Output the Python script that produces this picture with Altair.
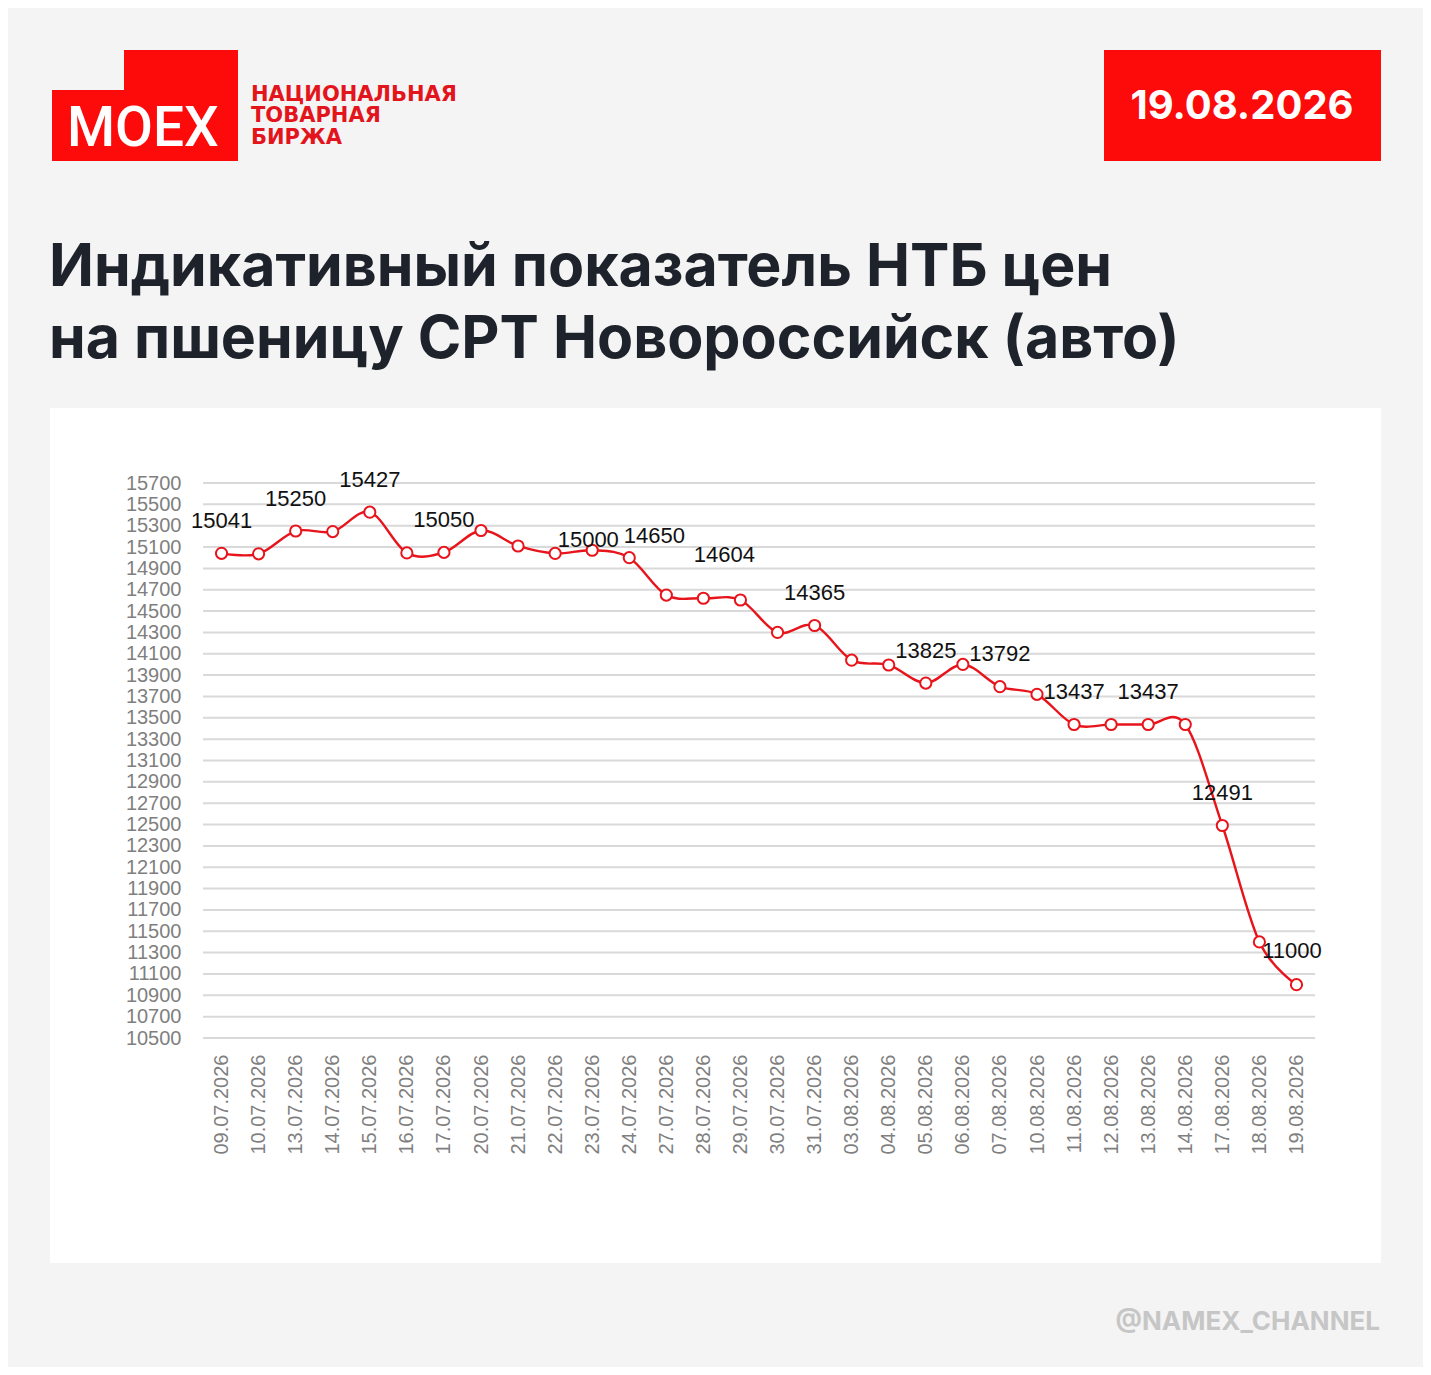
import sys
import altair as alt
import pandas as pd

# ---------------- data ----------------
dates = [
    "09.07.2026", "10.07.2026", "13.07.2026", "14.07.2026", "15.07.2026",
    "16.07.2026", "17.07.2026", "20.07.2026", "21.07.2026", "22.07.2026",
    "23.07.2026", "24.07.2026", "27.07.2026", "28.07.2026", "29.07.2026",
    "30.07.2026", "31.07.2026", "03.08.2026", "04.08.2026", "05.08.2026",
    "06.08.2026", "07.08.2026", "10.08.2026", "11.08.2026", "12.08.2026",
    "13.08.2026", "14.08.2026", "17.08.2026", "18.08.2026", "19.08.2026",
]
prices = [
    15041, 15036, 15250, 15245, 15427,
    15045, 15050, 15255, 15110, 15040,
    15070, 15000, 14650, 14620, 14604,
    14300, 14365, 14040, 13995, 13825,
    14000, 13792, 13720, 13437, 13437,
    13437, 13437, 12491, 11400, 11000,
]
labelled_dates = [
    "09.07.2026", "13.07.2026", "15.07.2026", "17.07.2026", "24.07.2026",
    "27.07.2026", "29.07.2026", "31.07.2026", "05.08.2026", "07.08.2026",
    "11.08.2026", "13.08.2026", "17.08.2026", "19.08.2026",
]
y_ticks = [
    10500, 10700, 10900, 11100, 11300, 11500, 11700, 11900, 12100,
    12300, 12500, 12700, 12900, 13100, 13300, 13500, 13700, 13900,
    14100, 14300, 14500, 14700, 14900, 15100, 15300, 15500, 15700,
]
title_lines = [
    "Индикативный показатель НТБ цен",
    "на пшеницу CPT Новороссийск (авто)",
]
logo_lines = ["НАЦИОНАЛЬНАЯ", "ТОВАРНАЯ", "БИРЖА"]
report_date = "19.08.2026"
watermark = "@NAMEX_CHANNEL"

# ---------------- styling ----------------
RED = "#e8141c"
BRAND_RED = "#fd0a0a"
GRID = "#d9d9d9"
AXIS_GRAY = "#7f7f7f"
DARK = "#1e222b"

W, H = 1112, 555          # plot area
OX, OY = 203, 483         # page position of plot origin
PAGE_W, PAGE_H = 1415, 1359

# label shifts (dx, dy) for manually placed labels
label_shift = {
    "24.07.2026": (-41, -10.5),
    "27.07.2026": (-12, -52.5),
    "29.07.2026": (-16, -37.5),
    "19.08.2026": (-4.5, -26.5),
}


def build():
    df = pd.DataFrame({"date": dates, "price": prices})
    lab = df[df["date"].isin(labelled_dates)].copy()
    lab["label"] = lab["price"].astype(int).astype(str)
    grid_df = pd.DataFrame({"price": y_ticks})
    one = pd.DataFrame({"k": [0]})

    def box(x0, y0, x1, y1, color):
        return alt.Chart(one).mark_rect(color=color).encode(
            x=alt.value(x0 - OX), x2=alt.value(x1 - OX),
            y=alt.value(y0 - OY), y2=alt.value(y1 - OY),
        )

    def txt(text, x, y, size, color, font, weight="normal", align="left"):
        return alt.Chart(one).mark_text(
            align=align, baseline="alphabetic", fontSize=size,
            font=font, fontWeight=weight, color=color,
        ).encode(x=alt.value(x - OX), y=alt.value(y - OY), text=alt.value(text))

    yscale = alt.Scale(domain=[10500, 15700], nice=False, zero=False)
    yenc = alt.Y(
        "price:Q", scale=yscale, title=None,
        axis=alt.Axis(
            values=y_ticks, format="d", grid=False, domain=False, ticks=False,
            tickSize=0, labelPadding=22, labelFont="Liberation Sans",
            labelFontSize=20, labelColor=AXIS_GRAY, labelOverlap=False,
            labelFlush=False, zindex=1,
        ),
    )
    xenc = alt.X(
        "date:N", sort=dates, title=None,
        axis=alt.Axis(
            labelAngle=-90, grid=False, domain=False, ticks=False, tickSize=0,
            labelPadding=16, labelFont="Liberation Sans", labelFontSize=20,
            labelColor=AXIS_GRAY, labelOverlap=False, zindex=1,
        ),
    )

    panel = box(50, 408, 1381, 1263, "white")

    logo = [
        box(52, 90, 238, 161, BRAND_RED),
        box(124, 50, 238, 91, BRAND_RED),
        txt("MOEX", 67, 146, 55, "white", "Roboto", weight=500),
        txt(logo_lines[0], 251, 100.5, 21, "#e3141b", "DejaVu Sans", weight="bold"),
        txt(logo_lines[1], 251, 122, 21, "#e3141b", "DejaVu Sans", weight="bold"),
        txt(logo_lines[2], 251, 144, 21, "#e3141b", "DejaVu Sans", weight="bold"),
        box(1104, 50, 1381, 161, BRAND_RED),
        txt(report_date, 1242, 119, 40, "white", "Inter", weight="bold", align="center"),
    ]

    titles = [
        txt(title_lines[0], 49, 286, 59, DARK, "Inter", weight="bold"),
        txt(title_lines[1], 49, 358, 59, DARK, "Inter", weight="bold"),
    ]

    wm = txt(watermark, 1380, 1330, 26, "#c6c6c6", "Inter", weight="bold", align="right")

    gridlines = alt.Chart(grid_df).mark_rule(color=GRID, strokeWidth=2).encode(
        y=yenc, x=alt.value(0), x2=alt.value(W)
    )

    line = alt.Chart(df).mark_line(
        color=RED, strokeWidth=2.4, interpolate="cardinal"
    ).encode(x=xenc, y=yenc)

    points = alt.Chart(df).mark_point(
        shape="circle", filled=True, fill="white", stroke=RED, strokeWidth=2,
        size=125, opacity=1,
    ).encode(x=xenc, y=yenc)

    base_lab = lab[~lab["date"].isin(list(label_shift.keys()))]
    label_layers = [
        alt.Chart(base_lab).mark_text(
            baseline="alphabetic", align="center", dy=-25.5, fontSize=22,
            font="Liberation Sans", color="#111111",
        ).encode(x=xenc, y=yenc, text="label:N")
    ]
    for d, (dx, dy) in label_shift.items():
        label_layers.append(
            alt.Chart(lab[lab["date"] == d]).mark_text(
                baseline="alphabetic", align="center", dx=dx, dy=dy, fontSize=22,
                font="Liberation Sans", color="#111111",
            ).encode(x=xenc, y=yenc, text="label:N")
        )

    chart = alt.layer(
        panel, *logo, *titles, wm, gridlines, line, points, *label_layers
    ).properties(
        width=W, height=H,
        padding={"left": OX - 8, "top": OY - 8,
                 "right": PAGE_W - (OX - 8) - W, "bottom": PAGE_H - (OY - 8) - H},
        autosize=alt.AutoSizeParams(type="none"),
    ).configure(background="#f4f4f4").configure_view(stroke=None)
    return chart


try:
    chart = build()
    chart.save("out.html", embed_options={"renderer": "svg", "actions": False})
except Exception as e:
    msg = str(e).splitlines()
    sys.stderr.write("\n".join(msg[:4]) + "\n")
    sys.exit(1)
